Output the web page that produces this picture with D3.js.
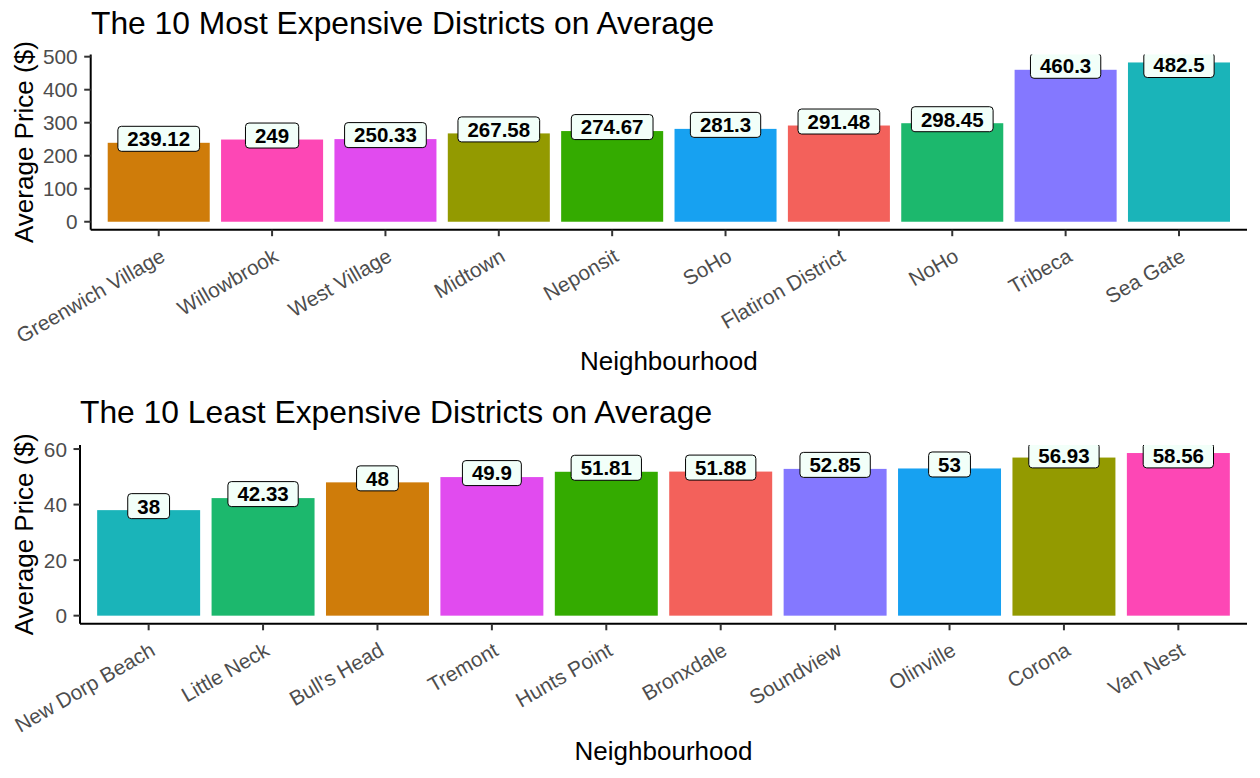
<!DOCTYPE html>
<html><head><meta charset="utf-8">
<script src="https://cdn.jsdelivr.net/npm/d3@7"></script>
<style>body{margin:0;background:#fff}svg{display:block;font-family:"Liberation Sans",Arial,Helvetica,sans-serif}</style>
</head><body>
<svg id="chart" width="1260" height="778"></svg>
<script>
const topNeighbourhoods = ["Greenwich Village","Willowbrook","West Village","Midtown","Neponsit","SoHo","Flatiron District","NoHo","Tribeca","Sea Gate"];
const topPrices = [239.12,249,250.33,267.58,274.67,281.3,291.48,298.45,460.3,482.5];
const topYTicks = [0,100,200,300,400,500];
const bottomNeighbourhoods = ["New Dorp Beach","Little Neck","Bull's Head","Tremont","Hunts Point","Bronxdale","Soundview","Olinville","Corona","Van Nest"];
const bottomPrices = [38,42.33,48,49.9,51.81,51.88,52.85,53,56.93,58.56];
const bottomYTicks = [0,20,40,60];
const topTitle = "The 10 Most Expensive Districts on Average";
const bottomTitle = "The 10 Least Expensive Districts on Average";
const xTitle = "Neighbourhood";
const yTitle = "Average Price ($)";
const topColors = ["#CF7C0A","#FD47B5","#E14BEF","#939A00","#34AB00","#17A1F1","#F3615B","#1CB86D","#8478FF","#1AB4B9"];
const bottomColors = ["#1AB4B9","#1CB86D","#CF7C0A","#E14BEF","#34AB00","#F3615B","#8478FF","#17A1F1","#939A00","#FD47B5"];

const svg = d3.select("#chart");
const tickGrey = "#4D4D4D";

function drawPanel(cfg, idx) {
  const {names, values, ticks, colors, title, box, titleX, titleY, xTitleY} = cfg;
  const maxV = d3.max(values);
  const y = d3.scaleLinear().domain([-0.05 * maxV, 1.05 * maxV]).range([box.bottom, box.top]);
  const x = d3.scaleBand().domain(names).range([box.left, box.right]).paddingInner(0.1).paddingOuter(0.15);
  const color = d3.scaleOrdinal().domain(names).range(colors);
  const g = svg.append("g");

  // title
  g.append("text").attr("x", titleX).attr("y", titleY).attr("font-size", 31.8).attr("fill", "#000").text(title);

  // bars
  g.selectAll("rect.bar").data(names).join("rect").attr("class", "bar")
    .attr("x", d => x(d)).attr("width", x.bandwidth())
    .attr("y", (d, i) => y(values[i])).attr("height", (d, i) => y(0) - y(values[i]))
    .attr("fill", d => color(d));

  // labels (clipped to the panel)
  const clipId = "clip" + idx;
  svg.append("clipPath").attr("id", clipId).append("rect")
    .attr("x", box.left).attr("y", box.top).attr("width", box.right - box.left).attr("height", box.bottom - box.top);
  const lg = g.append("g").attr("clip-path", `url(#${clipId})`);
  const h = 25;
  names.forEach((n, i) => {
    const cx = x(n) + x.bandwidth() / 2;
    const cy = Math.max(y(values[i]) - 4, box.top + 10.5);
    const lab = lg.append("g");
    const t = lab.append("text").attr("x", cx).attr("y", cy).attr("dy", "0.36em")
      .attr("text-anchor", "middle").attr("font-size", 20.5).attr("font-weight", "bold").attr("fill", "#000")
      .text(String(values[i]));
    const w = t.node().getComputedTextLength() + 19;
    lab.insert("rect", "text").attr("x", cx - w / 2).attr("y", cy - h / 2).attr("width", w).attr("height", h)
      .attr("rx", 3.5).attr("ry", 3.5).attr("fill", "#F2FFF9").attr("stroke", "#000").attr("stroke-width", 1);
  });

  // y axis
  const ya = g.append("g");
  ya.append("line").attr("x1", box.left).attr("x2", box.left).attr("y1", box.top).attr("y2", box.bottom)
    .attr("stroke", "#000").attr("stroke-width", 2);
  ticks.forEach(tk => {
    ya.append("line").attr("x1", box.left - 6.5).attr("x2", box.left).attr("y1", y(tk)).attr("y2", y(tk))
      .attr("stroke", "#333").attr("stroke-width", 2);
    ya.append("text").attr("x", box.left - 13).attr("y", y(tk)).attr("dy", "0.36em").attr("text-anchor", "end")
      .attr("font-size", 20.8).attr("fill", tickGrey).text(tk);
  });

  // x axis
  const xa = g.append("g");
  xa.append("line").attr("x1", box.left).attr("x2", box.right).attr("y1", box.bottom).attr("y2", box.bottom)
    .attr("stroke", "#000").attr("stroke-width", 2);
  names.forEach(n => {
    const cx = x(n) + x.bandwidth() / 2;
    xa.append("line").attr("x1", cx).attr("x2", cx).attr("y1", box.bottom).attr("y2", box.bottom + 6.5)
      .attr("stroke", "#333").attr("stroke-width", 2);
    const ay = box.bottom + 17;
    xa.append("text").attr("x", cx).attr("y", ay).attr("dy", "0.75em").attr("text-anchor", "end")
      .attr("transform", `rotate(-30,${cx},${ay})`)
      .attr("font-size", 20.8).attr("fill", tickGrey).text(n);
  });

  // axis titles
  g.append("text").attr("x", (box.left + box.right) / 2).attr("y", xTitleY).attr("text-anchor", "middle")
    .attr("font-size", 26).attr("fill", "#000").text(xTitle);
  const cy = (box.top + box.bottom) / 2;
  g.append("text").attr("x", 33).attr("y", cy).attr("text-anchor", "middle")
    .attr("transform", `rotate(-90,33,${cy})`).attr("font-size", 26).attr("fill", "#000").text(yTitle);
}

drawPanel({names: topNeighbourhoods, values: topPrices, ticks: topYTicks, colors: topColors, title: topTitle,
  box: {left: 90.7, right: 1247, top: 54.5, bottom: 229.7}, titleX: 91, titleY: 33.5, xTitleY: 369.5}, 0);
drawPanel({names: bottomNeighbourhoods, values: bottomPrices, ticks: bottomYTicks, colors: bottomColors, title: bottomTitle,
  box: {left: 80, right: 1247, top: 444.9, bottom: 623.8}, titleX: 80, titleY: 423.3, xTitleY: 760}, 1);
</script>
</body></html>
